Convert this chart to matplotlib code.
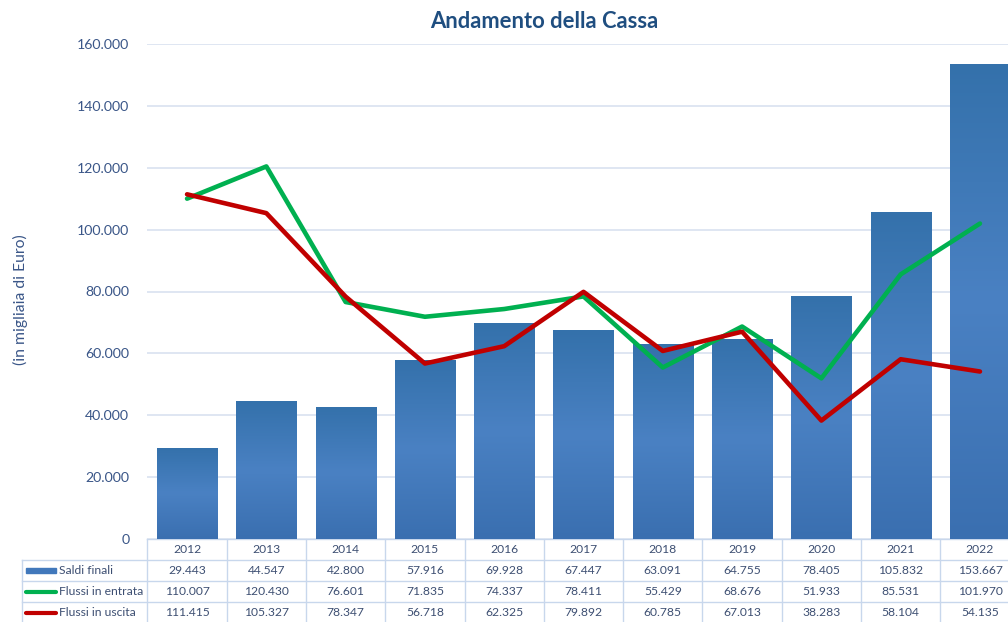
import matplotlib
matplotlib.use("Agg")
import matplotlib.pyplot as plt
import matplotlib.transforms as mtransforms
import numpy as np
from matplotlib.colors import LinearSegmentedColormap
from matplotlib.lines import Line2D
from matplotlib.patches import Rectangle
from matplotlib.ticker import FuncFormatter, MultipleLocator

# %% Data.
years = ['2012', '2013', '2014', '2015', '2016', '2017', '2018', '2019', '2020', '2021', '2022']
saldi_finali = [29443, 44547, 42800, 57916, 69928, 67447, 63091, 64755, 78405, 105832, 153667]
flussi_entrata = [110007, 120430, 76601, 71835, 74337, 78411, 55429, 68676, 51933, 85531, 101970]
flussi_uscita = [111415, 105327, 78347, 56718, 62325, 79892, 60785, 67013, 38283, 58104, 54135]
row_labels = ['Saldi finali', 'Flussi in entrata', 'Flussi in uscita']

# %% Style.
plt.rcParams['font.family'] = ['Lato', 'DejaVu Sans']
title_color = '#1f4e80'
text_color = '#3a5688'
table_text = '#3d4f72'
grid_color = '#d9e2f0'
border_color = '#c8d7ec'
green = '#00b050'
red = '#c00000'
bar_cmap = LinearSegmentedColormap.from_list(
    'bar', ['#3a6fb0', '#4a81c3', '#3471ab'])


def it_fmt(v):
    return f'{v:,.0f}'.replace(',', '.')


W, H = 1008, 622
fig = plt.figure(figsize=(W / 100, H / 100), dpi=100)
ax_l, ax_r, ax_t, ax_b = 147.4, 1019.6, 44, 539
ax = fig.add_axes([ax_l / W, 1 - ax_b / H, (ax_r - ax_l) / W, (ax_b - ax_t) / H])

x = np.arange(len(years))
bars = ax.bar(x, saldi_finali, width=0.757, color='#4178bb', zorder=2)
grad = np.linspace(0, 1, 256).reshape(-1, 1)
for b in bars:
    x0, y0 = b.get_x(), b.get_y()
    im = ax.imshow(grad, cmap=bar_cmap, origin='lower', aspect='auto',
                   extent=(x0, x0 + b.get_width(), y0, y0 + b.get_height()),
                   zorder=2.1)
    im.set_clip_path(b)

ax.plot(x, flussi_entrata, color=green, lw=3.3, zorder=3,
        solid_joinstyle='round', solid_capstyle='round')
ax.plot(x, flussi_uscita, color=red, lw=3.3, zorder=4,
        solid_joinstyle='round', solid_capstyle='round')

ax.set_xlim(-0.5, len(years) - 0.5)
ax.set_ylim(0, 160000)
ax.yaxis.set_major_locator(MultipleLocator(20000))
ax.yaxis.set_major_formatter(FuncFormatter(lambda v, p: it_fmt(v)))
ax.grid(axis='y', color=grid_color, lw=1.2, zorder=0)
for s in ax.spines.values():
    s.set_visible(False)
ax.tick_params(axis='y', length=0, pad=13, labelsize=10.2, labelcolor=text_color)
ax.set_xticks([])

fig.text(544 / W, 1 - 22 / H, 'Andamento della Cassa', ha='center', va='center',
         fontsize=15.8, fontweight='bold', color=title_color)
fig.text(20 / W, 1 - 300 / H, '(in migliaia di Euro)', rotation=90, ha='center',
         va='center', fontsize=11.3, color=text_color)

# %% Data table under the chart.
rh = 21 / (ax_b - ax_t)
left = (22 - ax_l) / (ax_r - ax_l)
blend = mtransforms.blended_transform_factory(ax.transData, ax.transAxes)
n = len(years)
kw = dict(color=border_color, lw=1, clip_on=False, zorder=1)

ax.add_line(Line2D([-0.5, n - 0.5], [0, 0], transform=blend, **kw))
for k in range(1, 5):
    ax.add_line(Line2D([left, 1], [-k * rh, -k * rh], transform=ax.transAxes, **kw))
for i in range(n + 1):
    ax.add_line(Line2D([i - 0.5, i - 0.5], [0, -4 * rh], transform=blend, **kw))
ax.add_line(Line2D([left, left], [-rh, -4 * rh], transform=ax.transAxes, **kw))

for i, yr in enumerate(years):
    ax.text(i, -0.5 * rh, yr, transform=blend, ha='center', va='center',
            fontsize=8.7, color=table_text, clip_on=False)
for r, series in enumerate([saldi_finali, flussi_entrata, flussi_uscita]):
    yc = -(r + 1.5) * rh
    for i, v in enumerate(series):
        ax.text(i, yc, it_fmt(v), transform=blend, ha='center', va='center',
                fontsize=8.7, color=table_text, clip_on=False)

key_x0 = (26 - ax_l) / (ax_r - ax_l)
key_x1 = (56 - ax_l) / (ax_r - ax_l)
lab_x = (59 - ax_l) / (ax_r - ax_l)
ax.add_patch(Rectangle((key_x0, -1.5 * rh - 2.6 / 495), key_x1 - key_x0, 5.2 / 495,
                       transform=ax.transAxes, color='#4178bb', clip_on=False))
ax.add_line(Line2D([key_x0, key_x1], [-2.5 * rh] * 2, transform=ax.transAxes, color=green,
                   lw=3, solid_capstyle='round', clip_on=False))
ax.add_line(Line2D([key_x0, key_x1], [-3.5 * rh] * 2, transform=ax.transAxes, color=red,
                   lw=3, solid_capstyle='round', clip_on=False))
for r, lab in enumerate(row_labels):
    ax.text(lab_x, -(r + 1.5) * rh, lab, transform=ax.transAxes, ha='left', va='center',
            fontsize=8.7, color=table_text, clip_on=False)

fig.savefig('out.png', dpi=100)
